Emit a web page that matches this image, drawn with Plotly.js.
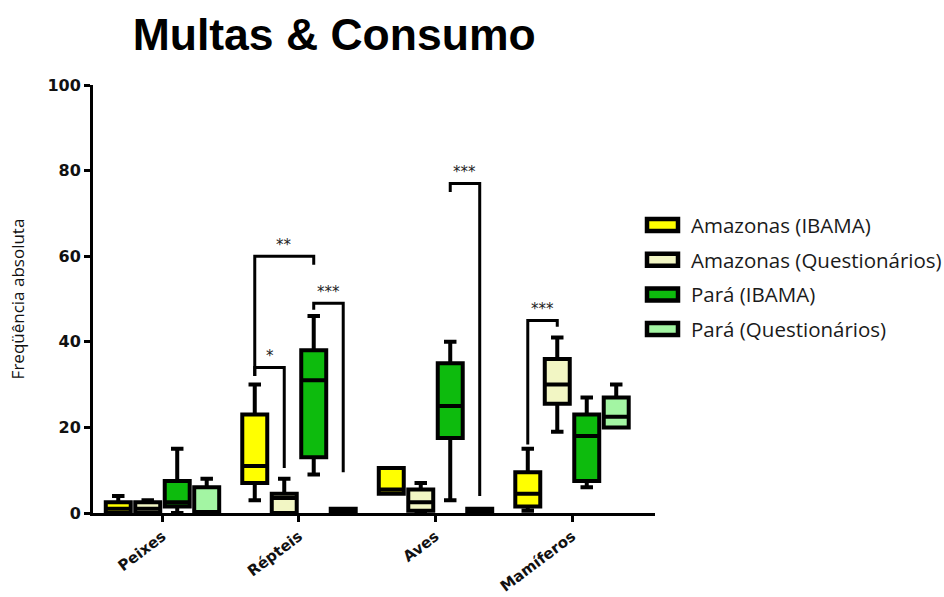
<!DOCTYPE html>
<html>
<head>
<meta charset="utf-8">
<script src="https://cdn.plot.ly/plotly-3.0.1.min.js"></script>
<style>
  html, body { margin: 0; padding: 0; background: #fff; }
  #chart { width: 944px; height: 597px; }
</style>
</head>
<body>
<div id="chart"></div>
<script>
// Animal groups on the x axis
const categories = ['Peixes', 'Répteis', 'Aves', 'Mamíferos'];

// Series names
const seriesNames = ['Amazonas (IBAMA)', 'Amazonas (Questionários)', 'Pará (IBAMA)', 'Pará (Questionários)'];

// Box statistics per series (one value per category)
const amIbamaLower  = [0, 3, 4.5, 0.5];
const amIbamaQ1     = [0, 7, 4.5, 1.5];
const amIbamaMedian = [1, 11, 5.5, 4.5];
const amIbamaQ3     = [2.5, 23, 10.5, 9.5];
const amIbamaUpper  = [4, 30, 10.5, 15];

const amQuestLower  = [0, 0, 0, 19];
const amQuestQ1     = [0, 0, 0.5, 25.5];
const amQuestMedian = [1, 3.5, 2.5, 30];
const amQuestQ3     = [2.5, 4.5, 5.5, 36];
const amQuestUpper  = [3, 8, 7, 41];

const paIbamaLower  = [0, 9, 3, 6];
const paIbamaQ1     = [1.5, 13, 17.5, 7.5];
const paIbamaMedian = [2.5, 31, 25, 18];
const paIbamaQ3     = [7.5, 38, 35, 23];
const paIbamaUpper  = [15, 46, 40, 27];

const paQuestLower  = [0, 0, 0, 20];
const paQuestQ1     = [0, 0, 0, 20];
const paQuestMedian = [0, 0, 0, 22.5];
const paQuestQ3     = [6, 1, 1, 27];
const paQuestUpper  = [8, 1, 1, 30];

// Significance brackets: category index, series from/to, bracket top, leg ends, label
const bracketCategory = [1, 1, 1, 2, 3];
const bracketFrom     = [0, 0, 2, 2, 0];
const bracketTo       = [1, 2, 3, 3, 1];
const bracketTop      = [34, 60, 49, 77, 45];
const bracketLeftEnd  = [32, 32, 47.5, 75, 16];
const bracketRightEnd = [10.5, 58, 9.5, 4, 43.5];
const bracketLabel    = ['*', '**', '***', '***', '***'];

const yTickVals = [0, 20, 40, 60, 80, 100];

const fillColors = ['#ffff00', '#f2f6c4', '#0dbb0d', '#a3f5a3'];

const stats = [
  [amIbamaLower, amIbamaQ1, amIbamaMedian, amIbamaQ3, amIbamaUpper],
  [amQuestLower, amQuestQ1, amQuestMedian, amQuestQ3, amQuestUpper],
  [paIbamaLower, paIbamaQ1, paIbamaMedian, paIbamaQ3, paIbamaUpper],
  [paQuestLower, paQuestQ1, paQuestMedian, paQuestQ3, paQuestUpper]
];

const BOXGAP = 0.136;
const BOXGROUPGAP = 0.153;

const traces = stats.map((s, i) => ({
  type: 'box',
  name: seriesNames[i],
  x: categories,
  lowerfence: s[0],
  q1: s[1],
  median: s[2],
  q3: s[3],
  upperfence: s[4],
  fillcolor: fillColors[i],
  line: { color: '#000000', width: 4 },
  whiskerwidth: 0.5,
  showlegend: false,
  hoverinfo: 'skip'
}));

// Centre of a series' box inside its category group
const nSeries = seriesNames.length;
function boxCenter(cat, idx) {
  const half = 0.5 * (1 - BOXGAP);
  return cat - half + (2 * idx + 1) * half / nSeries;
}

const shapes = [];
const annotations = [];
bracketCategory.forEach((c, k) => {
  const xl = boxCenter(c, bracketFrom[k]);
  const xr = boxCenter(c, bracketTo[k]);
  shapes.push({
    type: 'path', xref: 'x', yref: 'y',
    path: `M ${xl},${bracketLeftEnd[k]} L ${xl},${bracketTop[k]} L ${xr},${bracketTop[k]} L ${xr},${bracketRightEnd[k]}`,
    line: { color: '#000000', width: 3 }
  });
  annotations.push({
    xref: 'x', yref: 'y', x: (xl + xr) / 2, y: bracketTop[k],
    text: bracketLabel[k], showarrow: false, yanchor: 'bottom', yshift: 0,
    font: { family: 'DejaVu Sans', size: 15, color: '#222222' }
  });
});

// Legend: swatch + label per series, placed to the right of the plot area
const plotW = 944 - 93 - 289;
const plotH = 597 - 85 - 84;
const px2x = px => (px - 93) / plotW;
const px2y = py => (597 - 84 - py) / plotH;
const legendTop = 225, legendStep = 34.7;
seriesNames.forEach((name, i) => {
  const cy = legendTop + i * legendStep;
  shapes.push({
    type: 'rect', xref: 'paper', yref: 'paper',
    x0: px2x(647), x1: px2x(678), y0: px2y(cy + 6), y1: px2y(cy - 6),
    fillcolor: fillColors[i], line: { color: '#000000', width: 4.5 }
  });
  annotations.push({
    xref: 'paper', yref: 'paper', x: px2x(689), y: px2y(cy),
    xanchor: 'left', yanchor: 'middle', showarrow: false,
    text: name,
    font: { family: 'Open Sans', size: 20.5, color: '#1a1a1a' }
  });
});

const layout = {
  width: 944, height: 597,
  margin: { l: 93, r: 289, t: 85, b: 84 },
  paper_bgcolor: '#ffffff', plot_bgcolor: '#ffffff',
  title: {
    text: '<b>Multas & Consumo</b>',
    xref: 'container', yref: 'container',
    x: 0.354, xanchor: 'center', y: 0.968, yanchor: 'top',
    font: { family: 'Liberation Sans, Arial, sans-serif', size: 44.5, color: '#000000' }
  },
  boxmode: 'group',
  boxgap: BOXGAP,
  boxgroupgap: BOXGROUPGAP,
  xaxis: {
    type: 'category',
    range: [-0.509, 3.608],
    showline: true, linecolor: '#000000', linewidth: 3,
    ticks: 'outside', ticklen: 6, tickwidth: 3, tickcolor: '#000000',
    tickangle: -37,
    tickfont: { family: 'DejaVu Sans', size: 15, color: '#111111', weight: 'bold' },
    showgrid: false, zeroline: false, fixedrange: true
  },
  yaxis: {
    range: [0, 100],
    tickvals: yTickVals,
    showline: true, linecolor: '#000000', linewidth: 3,
    ticks: 'outside', ticklen: 6, tickwidth: 3, tickcolor: '#000000',
    tickfont: { family: 'DejaVu Sans', size: 16, color: '#111111', weight: 'bold' },
    showgrid: false, zeroline: false, fixedrange: true,
    title: {
      text: 'Freqüência absoluta',
      font: { family: 'Open Sans', size: 17, color: '#111111' },
      standoff: 19
    }
  },
  showlegend: false,
  shapes: shapes,
  annotations: annotations
};

Plotly.newPlot('chart', traces, layout, { staticPlot: true, displayModeBar: false });
</script>
</body>
</html>
